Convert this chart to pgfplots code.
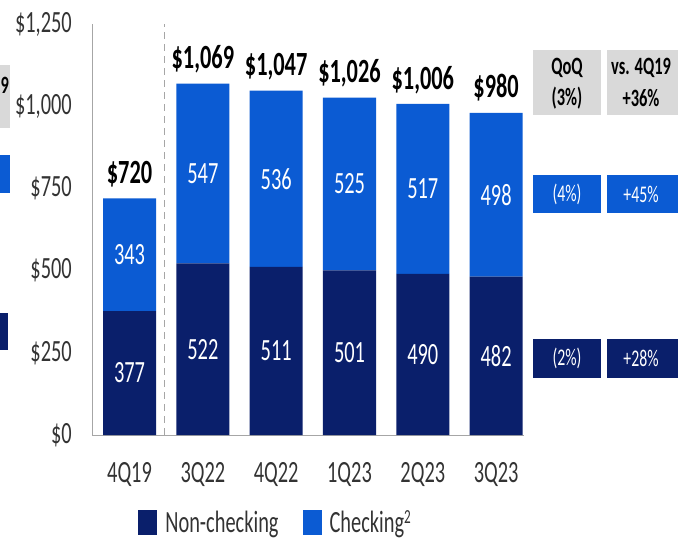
\documentclass[border=0pt]{standalone}
\usepackage{pgfplots}
\pgfplotsset{compat=1.18}
\usepackage{pgfplotstable}
\usepackage{fontspec}
\setmainfont[FakeStretch=0.66]{Carlito}
\definecolor{navy}{HTML}{0A1F6B}
\definecolor{bblue}{HTML}{0B5BD3}
\definecolor{boxgray}{HTML}{D9D9D9}
\definecolor{axgray}{HTML}{A6A6A6}
\definecolor{txt}{HTML}{333333}

\pgfplotstableread{
x non chk tot nonmid chkmid
0 377 343 720 188.5 548.5
1 522 547 1069 261 795.5
2 511 536 1047 255.5 779
3 501 525 1026 250.5 763.5
4 490 517 1006 245 748.5
5 482 498 980 241 731
}\datatable

\pgfplotsset{
  base/.style={
    at={(92bp,107bp)}, anchor=south west,
    scale only axis, width=432bp, height=411bp,
    xmin=-0.512, xmax=5.38, ymin=0, ymax=1250,
    clip=false,
  },
}

\begin{document}
\begin{tikzpicture}
\useasboundingbox (0,0) rectangle (678bp,542bp);
% left edge fragments
\fill[boxgray] (-60bp,414bp) rectangle (10bp,477bp);
\node[anchor=west, inner sep=0pt, font=\fontsize{25}{25}\selectfont\bfseries] at (0.5bp,457bp) {9};
\fill[bblue] (-60bp,349bp) rectangle (10bp,387bp);
\fill[navy] (-60bp,192bp) rectangle (8bp,229bp);

\begin{axis}[base,
  ybar stacked, bar width=0.723,
  axis x line*=bottom, axis y line*=left,
  axis line style={axgray, line width=1bp, -},
  xtick=data, xticklabels={4Q19,3Q22,4Q22,1Q23,2Q23,3Q23},
  ytick={0,250,500,750,1000,1250},
  yticklabels={\$0,\$250,\$500,\$750,{\$1,000},{\$1,250}},
  xtick style={draw=none}, ytick style={draw=none},
  yticklabel style={anchor=east, inner sep=0pt, xshift=-20bp, text=txt, font=\fontsize{31}{31}\selectfont},
  xticklabel style={anchor=north, inner sep=0pt, yshift=-27bp, text=txt, font=\fontsize{31}{31}\selectfont},
  legend style={at={(0.1,-0.212)}, anchor=west, draw=none, fill=none,
    legend columns=2, font=\fontsize{31}{31}\selectfont, text=txt,
    /tikz/every odd column/.append style={column sep=6bp},
    /tikz/every even column/.append style={column sep=22bp},
    legend cell align=left},
  legend image code/.code={\fill[#1] (0bp,-12.5bp) rectangle (19bp,12.5bp);},
]
\addplot[fill=navy, draw=none] table[x=x, y=non] {\datatable};
\addplot[fill=bblue, draw=none] table[x=x, y=chk] {\datatable};
\legend{Non-checking, Checking\textsuperscript{\fontsize{20}{20}\selectfont 2}}
\draw[axgray, line width=1bp, dash pattern=on 7bp off 5bp] (axis cs:0.47,0) -- (axis cs:0.47,1250);
\end{axis}

\begin{axis}[base, hide axis]
\addplot[only marks, mark=none, point meta=explicit symbolic,
  nodes near coords, nodes near coords style={anchor=center, inner sep=0pt, text=white, font=\fontsize{31}{31}\selectfont}]
  table[x=x, y=nonmid, meta=non] {\datatable};
\addplot[only marks, mark=none, point meta=explicit symbolic,
  nodes near coords, nodes near coords style={anchor=center, inner sep=0pt, text=white, font=\fontsize{31}{31}\selectfont}]
  table[x=x, y=chkmid, meta=chk] {\datatable};
\addplot[only marks, mark=none, point meta=explicit,
  nodes near coords={\$\pgfmathprintnumber[assume math mode=true, 1000 sep={,}, fixed, precision=0]{\pgfplotspointmeta}},
  nodes near coords style={anchor=base, inner sep=0pt, yshift=15bp, text=black, font=\fontsize{34}{34}\selectfont\bfseries}]
  table[x=x, y=tot, meta=tot] {\datatable};
\end{axis}

% right table
\fill[boxgray] (533bp,427bp) rectangle (601bp,492bp);
\fill[boxgray] (607bp,427bp) rectangle (690bp,492bp);
\fill[bblue] (533bp,329bp) rectangle (601bp,367bp);
\fill[bblue] (607bp,329bp) rectangle (690bp,367bp);
\fill[navy] (533bp,164bp) rectangle (601bp,203bp);
\fill[navy] (607bp,164bp) rectangle (690bp,203bp);
\begin{scope}[every node/.style={inner sep=0pt, font=\fontsize{25}{25}\selectfont\bfseries, text=black}]
\node at (567bp,474bp) {QoQ};
\node at (567bp,444bp) {(3\%)};
\node at (641bp,474bp) {vs. 4Q19};
\node at (641bp,444bp) {+36\%};
\end{scope}
\begin{scope}[every node/.style={inner sep=0pt, font=\fontsize{24}{24}\selectfont, text=white}]
\node at (567bp,348bp) {(4\%)};
\node at (641bp,348bp) {+45\%};
\node at (567bp,184bp) {(2\%)};
\node at (641bp,184bp) {+28\%};
\end{scope}
\end{tikzpicture}
\end{document}
